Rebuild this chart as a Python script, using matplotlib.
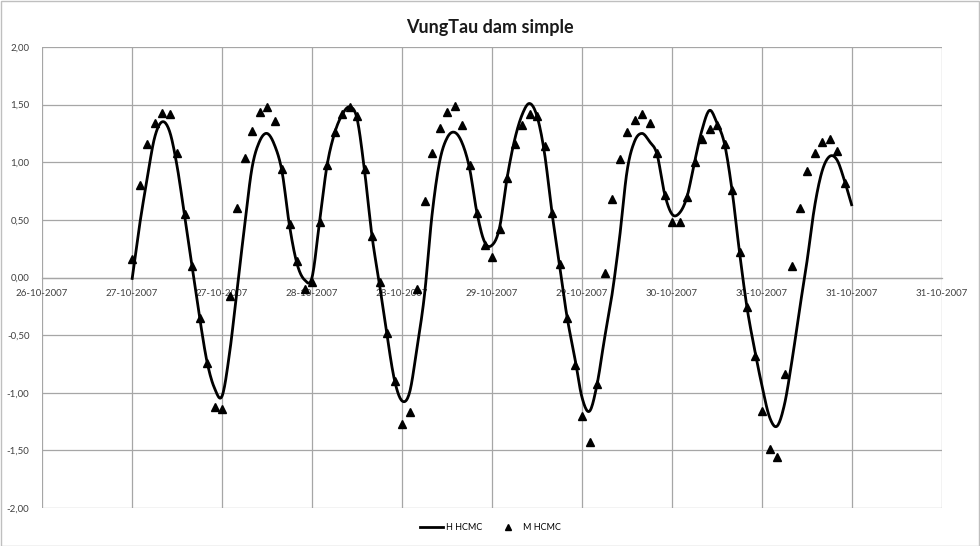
import numpy as np
import matplotlib
matplotlib.use("Agg")
import matplotlib.pyplot as plt
from matplotlib.patches import Rectangle
from matplotlib.lines import Line2D

# ---- data (hours from 27-10-2007 00:00) ----
h_hours = list(range(0, 97))
h_hcmc = [-0.02, 0.45, 0.85, 1.21, 1.35, 1.27, 0.97, 0.54, 0.10, -0.34,
          -0.73, -0.96, -1.03, -0.66, -0.11, 0.44, 0.95, 1.18, 1.25, 1.15,
          0.92, 0.45, 0.12, -0.02, 0.00, 0.48, 0.97, 1.25, 1.41, 1.48,
          1.38, 0.93, 0.36, -0.06, -0.50, -0.89, -1.07, -1.00, -0.61, -0.15,
          0.54, 1.00, 1.21, 1.26, 1.17, 0.95, 0.56, 0.31, 0.28, 0.43,
          0.86, 1.19, 1.41, 1.51, 1.40, 1.08, 0.56, 0.11, -0.34, -0.68,
          -1.04, -1.16, -0.93, -0.53, -0.15, 0.34, 0.92, 1.18, 1.25, 1.18,
          1.07, 0.73, 0.55, 0.56, 0.70, 1.00, 1.28, 1.45, 1.34, 1.16,
          0.76, 0.22, -0.26, -0.62, -0.94, -1.21, -1.29, -1.10, -0.72, -0.28,
          0.14, 0.61, 0.92, 1.05, 1.02, 0.84, 0.62]

m_hours = list(range(0, 96))
m_hcmc = [0.16, 0.80, 1.16, 1.34, 1.43, 1.42, 1.08, 0.55, 0.10, -0.35,
          -0.74, -1.12, -1.14, -0.16, 0.60, 1.04, 1.27, 1.44, 1.48, 1.36,
          0.94, 0.46, 0.14, -0.10, -0.04, 0.48, 0.98, 1.26, 1.42, 1.48,
          1.40, 0.94, 0.36, -0.04, -0.48, -0.90, -1.27, -1.17, -0.10, 0.66,
          1.08, 1.30, 1.44, 1.49, 1.32, 0.98, 0.56, 0.28, 0.18, 0.42,
          0.86, 1.16, 1.32, 1.42, 1.40, 1.14, 0.56, 0.12, -0.35, -0.76,
          -1.20, -1.43, -0.92, 0.04, 0.68, 1.03, 1.26, 1.37, 1.42, 1.34,
          1.08, 0.72, 0.48, 0.48, 0.70, 1.00, 1.20, 1.29, 1.32, 1.16,
          0.76, 0.22, -0.26, -0.68, -1.16, -1.49, -1.56, -0.84, 0.10, 0.60,
          0.92, 1.08, 1.18, 1.20, 1.10, 0.82]

x_tick_hours = [-12, 0, 12, 24, 36, 48, 60, 72, 84, 96, 108]
x_tick_labels = ["26-10-2007", "27-10-2007", "27-10-2007", "28-10-2007",
                 "28-10-2007", "29-10-2007", "29-10-2007", "30-10-2007",
                 "30-10-2007", "31-10-2007", "31-10-2007"]
y_ticks = [-2.0, -1.5, -1.0, -0.5, 0.0, 0.5, 1.0, 1.5, 2.0]

title = "VungTau dam simple"
series_names = ["H HCMC", "M HCMC"]


def smooth(x, y, n=12):
    """Catmull-Rom rendering of a line (like a spreadsheet smoothed line)."""
    x = np.asarray(x, float)
    y = np.asarray(y, float)
    px = np.concatenate([[2 * x[0] - x[1]], x, [2 * x[-1] - x[-2]]])
    py = np.concatenate([[2 * y[0] - y[1]], y, [2 * y[-1] - y[-2]]])
    xs, ys = [], []
    t = np.linspace(0, 1, n, endpoint=False)
    for i in range(1, len(px) - 2):
        for arr, out in ((px, xs), (py, ys)):
            p0, p1, p2, p3 = arr[i - 1], arr[i], arr[i + 1], arr[i + 2]
            out.extend(0.5 * ((2 * p1) + (-p0 + p2) * t
                              + (2 * p0 - 5 * p1 + 4 * p2 - p3) * t ** 2
                              + (-p0 + 3 * p1 - 3 * p2 + p3) * t ** 3))
    xs.append(x[-1])
    ys.append(y[-1])
    return np.array(xs), np.array(ys)


plt.rcParams['font.family'] = ['Lato', 'DejaVu Sans']

W, H = 980, 546
fig = plt.figure(figsize=(W / 100, H / 100), dpi=100)
ax = fig.add_axes([42 / W, 1 - 508 / H, 900 / W, 461 / H])

grid_c = '#a6a6a6'
ax.set_xlim(-12, 108)
ax.set_ylim(-2, 2)
ax.set_xticks(x_tick_hours)
ax.set_xticklabels(x_tick_labels)
ax.set_yticks(y_ticks)
ax.set_yticklabels([f"{v:.2f}".replace('.', ',') for v in y_ticks])
ax.grid(True, color=grid_c, linewidth=0.9)
ax.set_axisbelow(True)
for s in ['top', 'right', 'left']:
    ax.spines[s].set_visible(False)
ax.spines['bottom'].set_position(('data', 0))
ax.spines['bottom'].set_color(grid_c)
ax.spines['bottom'].set_linewidth(0.9)
ax.tick_params(axis='both', length=0, labelsize=7, colors='#404040')
ax.tick_params(axis='y', pad=9)
ax.tick_params(axis='x', pad=8)

sx, sy = smooth(h_hours, h_hcmc)
ax.plot(sx, sy, color='black', lw=2.0, solid_capstyle='butt', zorder=3)
ax.plot(m_hours, m_hcmc, linestyle='none', marker='^', color='black',
        markersize=6, zorder=4)

fig.text(0.5, 1 - 27 / H, title, ha='center', va='center',
         fontsize=13, fontweight='bold', color='#1a1a1a')

handles = [Line2D([0], [0], color='black', lw=2.0),
           Line2D([0], [0], color='black', marker='^', linestyle='none',
                  markersize=5)]
fig.legend(handles, series_names, loc='center', bbox_to_anchor=(0.5, 1 - 528 / H),
           ncol=2, frameon=False, fontsize=6.5, handlelength=2.6,
           handletextpad=0.3, columnspacing=1.6)

fig.add_artist(Rectangle((0.5 / W, 0.5 / H), 1 - 1.5 / W, 1 - 1.5 / H,
                         transform=fig.transFigure, fill=False,
                         edgecolor='#bfbfbf', lw=1))

fig.savefig('out.png', dpi=100)
